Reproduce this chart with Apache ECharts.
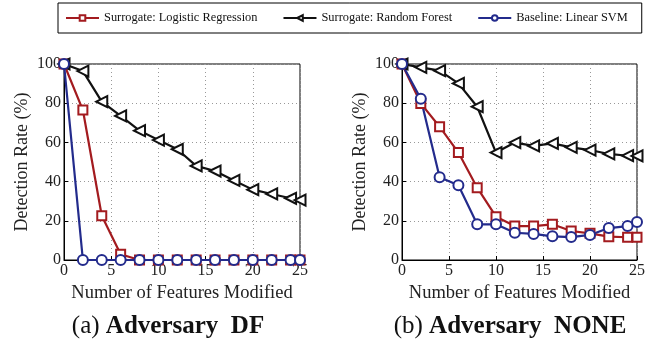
<!DOCTYPE html>
<html>
<head>
<meta charset="utf-8">
<script src="https://cdn.jsdelivr.net/npm/echarts@6/dist/echarts.min.js"></script>
<style>
  html, body { margin: 0; padding: 0; background: #fff; }
  #chart { width: 656px; height: 344px; }
</style>
</head>
<body>
<div id="chart"></div>
<script>
var chart = echarts.init(document.getElementById('chart'));

// features modified (x)
var xs = [0, 2, 4, 6, 8, 10, 12, 14, 16, 18, 20, 22, 24, 25];

// (a) Adversary DF
var dfLogReg = [100, 76.5, 22.6, 2.9, 0, 0, 0, 0, 0, 0, 0, 0, 0, 0];
var dfForest = [100, 96.4, 80.8, 73.5, 66, 61.2, 56.5, 48, 45.4, 40.6, 35.9, 33.7, 31.5, 30.6];
var dfSvm    = [100, 0, 0, 0, 0, 0, 0, 0, 0, 0, 0, 0, 0, 0];

// (b) Adversary NONE
var noneLogReg = [100, 79.9, 68, 54.8, 36.9, 22.1, 17.3, 17.3, 18.2, 14.8, 13.6, 11.9, 11.6, 11.6];
var noneForest = [100, 98.3, 96.6, 90.1, 78.2, 54.8, 59.9, 58.2, 59.5, 57.5, 56.1, 54.1, 53.2, 53.1];
var noneSvm    = [100, 82.3, 42.2, 38.1, 18.2, 18.2, 13.9, 13.3, 12.1, 11.7, 12.8, 16.3, 17.3, 19.4];

var names = ['Surrogate: Logistic Regression', 'Surrogate: Random Forest', 'Baseline: Linear SVM'];
var captions = [['(a) ', 'Adversary  DF'], ['(b) ', 'Adversary  NONE']];

var RED = '#a31b1f', BLACK = '#111111', BLUE = '#232b8c';
var font = 'Liberation Serif';

function pairs(ys) {
	return xs.map(function(x, i) { return [x, ys[i]]; });
}

function mkSeries(idx, logreg, forest, svm) {
	var base = {
		type : 'line',
		xAxisIndex : idx,
		yAxisIndex : idx,
		showAllSymbol : true,
		animation : false
	};
	return [
		Object.assign({}, base, {
			name : names[0], data : pairs(logreg), symbol : 'rect', symbolSize : 9,
			color : RED, itemStyle : { color : '#fff', borderColor : RED, borderWidth : 2 },
			lineStyle : { width : 2.2, color : RED }
		}),
		Object.assign({}, base, {
			name : names[1], data : pairs(forest), symbol : 'triangle', symbolRotate : 90, symbolSize : 11,
			color : BLACK, itemStyle : { color : '#fff', borderColor : BLACK, borderWidth : 2 },
			lineStyle : { width : 2.2, color : BLACK }
		}),
		Object.assign({}, base, {
			name : names[2], data : pairs(svm), symbol : 'circle', symbolSize : 10,
			color : BLUE, itemStyle : { color : '#fff', borderColor : BLUE, borderWidth : 2 },
			lineStyle : { width : 2.2, color : BLUE }
		})
	];
}

function mkX(idx) {
	return {
		type : 'value', gridIndex : idx, min : 0, max : 25, interval : 5,
		name : 'Number of Features Modified', nameLocation : 'middle', nameGap : 24,
		nameTextStyle : { fontFamily : font, fontSize : 18.5, color : '#222' },
		axisLine : { show : true, lineStyle : { color : '#000' } },
		axisTick : { show : true, inside : true, length : 4, lineStyle : { color : '#000' } },
		axisLabel : { fontFamily : font, fontSize : 16, color : '#222', margin : 3 },
		splitLine : { show : true, lineStyle : { type : [1, 3], color : '#999' } }
	};
}

function mkY(idx) {
	return {
		type : 'value', gridIndex : idx, min : 0, max : 100, interval : 20,
		name : 'Detection Rate (%)', nameLocation : 'middle', nameGap : 33,
		nameTextStyle : { fontFamily : font, fontSize : 18, color : '#222' },
		axisLine : { show : true, lineStyle : { color : '#000' } },
		axisTick : { show : true, inside : true, length : 4, lineStyle : { color : '#000' } },
		axisLabel : { fontFamily : font, fontSize : 16, color : '#222', margin : 3 },
		splitLine : { show : true, lineStyle : { type : [1, 3], color : '#999' } }
	};
}

function mkTitle(i, left) {
	return {
		text : '{n|' + captions[i][0] + '}{b|' + captions[i][1] + '}',
		left : left, top : 309, textAlign : 'center',
		textStyle : {
			rich : {
				n : { fontFamily : font, fontSize : 25, fontWeight : 'normal', color : '#111' },
				b : { fontFamily : font, fontSize : 25, fontWeight : 'bold', color : '#111' }
			}
		}
	};
}

var option = {
	backgroundColor : '#fff',
	animation : false,
	title : [ mkTitle(0, 163), mkTitle(1, 505) ],
	legend : {
		data : names,
		left : 58, top : 3,
		padding : [9, 14, 9, 7],
		itemGap : 25,
		itemWidth : 33, itemHeight : 7,
		borderColor : '#000', borderWidth : 1,
		textStyle : { fontFamily : font, fontSize : 12.4, color : '#111' }
	},
	grid : [
		{ left : 64, width : 236, top : 64, height : 196, show : true, borderColor : '#000', borderWidth : 1 },
		{ left : 402, width : 235, top : 64, height : 196, show : true, borderColor : '#000', borderWidth : 1 }
	],
	xAxis : [ mkX(0), mkX(1) ],
	yAxis : [ mkY(0), mkY(1) ],
	series : mkSeries(0, dfLogReg, dfForest, dfSvm).concat(mkSeries(1, noneLogReg, noneForest, noneSvm))
};

chart.setOption(option);
</script>
</body>
</html>
